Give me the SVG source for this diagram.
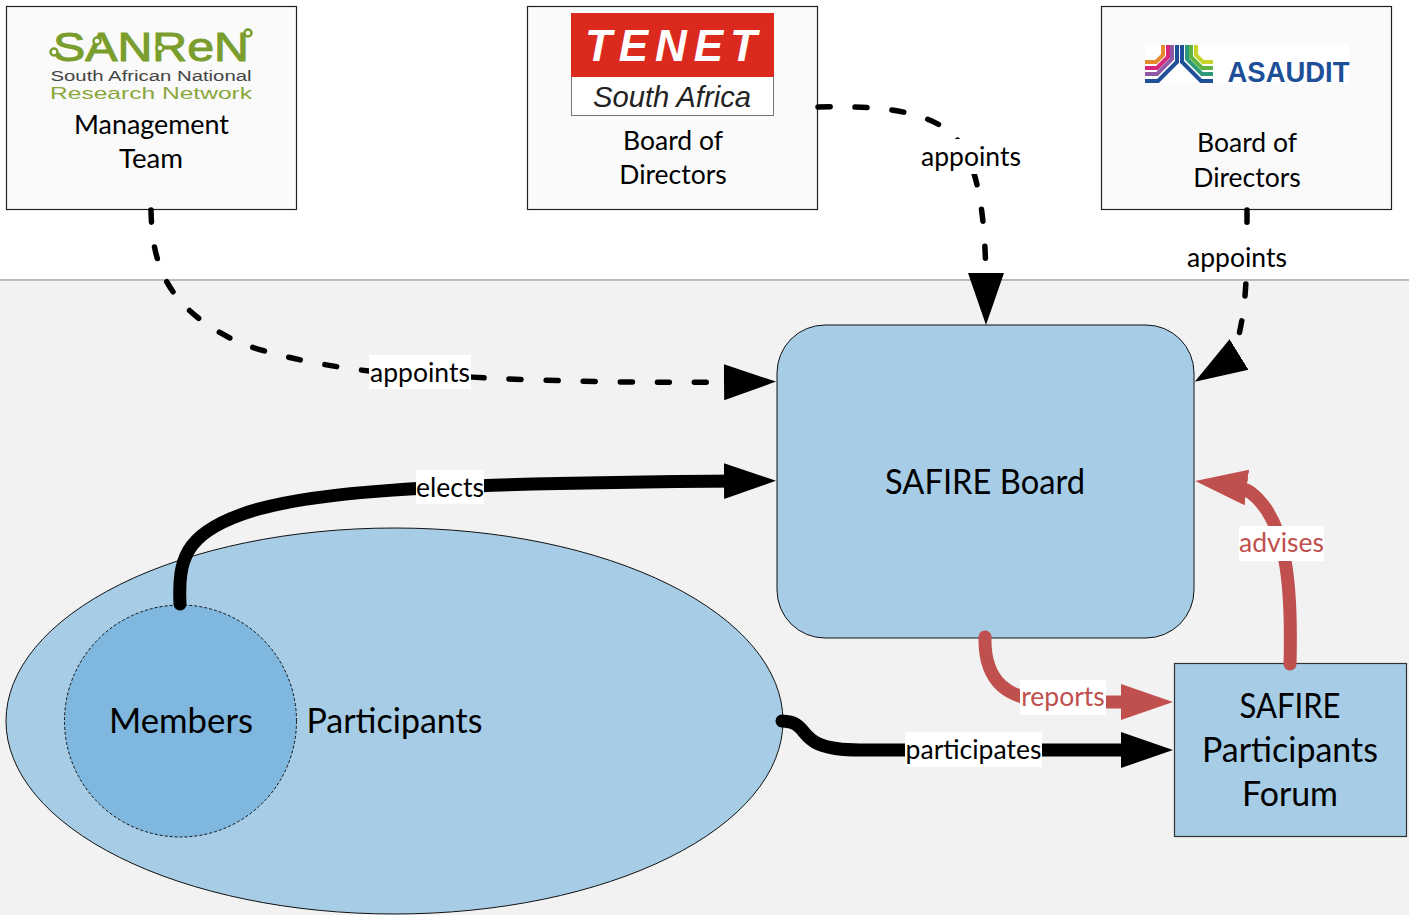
<svg xmlns="http://www.w3.org/2000/svg" width="1409" height="915" viewBox="0 0 1409 915">
<style>
text{font-family:Lato,"Open Sans","Liberation Sans",sans-serif;fill:#000;text-anchor:middle}
.box{fill:#fafafa;stroke:#222;stroke-width:1.2}
.t26{font-size:26.5px}
.t34{font-size:34px}
.lab{font-size:26.5px}
.bg{fill:#fff}
.c{fill:none;stroke-linecap:round}
.dash{stroke:#000;stroke-width:5.5;stroke-dasharray:12 25}
.blk{stroke:#000;stroke-width:13}
.red{stroke:#c0504d;stroke-width:13}
.logo{font-family:"Liberation Sans",Arial,sans-serif}
.node{fill:#fff;stroke:#7a9e2e;stroke-width:2.5}
</style>
<defs>
<marker id="ab" markerUnits="userSpaceOnUse" markerWidth="54" markerHeight="38" refX="20" refY="19" orient="auto"><path d="M0 1L52 19L0 37Z" fill="#000"/></marker>
<marker id="ar" markerUnits="userSpaceOnUse" markerWidth="54" markerHeight="38" refX="20" refY="19" orient="auto"><path d="M0 1L52 19L0 37Z" fill="#c0504d"/></marker>
</defs>
<rect width="1409" height="915" fill="#fff"/>
<path id="background" d="M0 280H1409V915H0Z" fill="#f2f2f2"/>
<path d="M0 280H1409" stroke="#bdbdbd" stroke-width="2" fill="none"/>

<g id="participants">
<ellipse cx="394.500" cy="721" rx="388.500" ry="193" fill="#a6cce6" stroke="#111" stroke-width="1"/>
<text class="t34" x="394.500" y="732.500" textLength="176" lengthAdjust="spacingAndGlyphs">Participants</text>
</g>
<g id="members">
<circle cx="180.500" cy="721" r="116" fill="#7fb7df" stroke="#111" stroke-width="1" stroke-dasharray="3 2"/>
<text class="t34" x="181" y="732.500" textLength="144" lengthAdjust="spacingAndGlyphs">Members</text>
</g>
<g id="safire-board">
<rect x="777" y="325" width="417" height="313" rx="48" fill="#a6cce6" stroke="#111" stroke-width="1"/>
<text class="t34" x="985" y="493.500" textLength="200" lengthAdjust="spacingAndGlyphs">SAFIRE Board</text>
</g>
<g id="forum">
<rect x="1174.500" y="663.500" width="232" height="173" fill="#a6cce6" stroke="#333" stroke-width="1.200"/>
<text class="t34" x="1290" y="717.500" textLength="101" lengthAdjust="spacingAndGlyphs">SAFIRE</text>
<text class="t34" x="1290" y="761.500" textLength="176" lengthAdjust="spacingAndGlyphs">Participants</text>
<text class="t34" x="1290" y="805.500" textLength="96" lengthAdjust="spacingAndGlyphs">Forum</text>
</g>

<g id="sanren">
<rect class="box" x="6.500" y="6.500" width="290" height="203"/>
<text x="151" y="61" font-size="40" stroke="#7a9e2e" stroke-width="1" textLength="196" lengthAdjust="spacingAndGlyphs" style="fill:#7a9e2e" class="logo">SANReN</text>
<circle class="node" cx="54" cy="52" r="3.500"/>
<circle class="node" cx="97" cy="41" r="3.500"/>
<circle class="node" cx="160" cy="48" r="3.500"/>
<circle class="node" cx="248" cy="33" r="3.500"/>
<text x="151" y="81" font-size="14" textLength="201" lengthAdjust="spacingAndGlyphs" style="fill:#444" class="logo">South African National</text>
<text x="151" y="98.500" font-size="17" textLength="202" lengthAdjust="spacingAndGlyphs" style="fill:#8aa83a" class="logo">Research Network</text>
<text class="t26" x="151.500" y="133.500" textLength="155" lengthAdjust="spacingAndGlyphs">Management</text>
<text class="t26" x="151" y="167.500" textLength="64" lengthAdjust="spacingAndGlyphs">Team</text>
</g>
<g id="tenet">
<rect class="box" x="527.500" y="6.500" width="290" height="203"/>
<rect x="571.500" y="13.500" width="202" height="102" fill="#fff" stroke="#777" stroke-width="1"/>
<rect x="571" y="13" width="203" height="64" fill="#dc291e"/>
<text class="logo" x="671" y="61" font-size="44" font-weight="700" font-style="italic" textLength="172" style="fill:#fff">TENET</text>
<text class="logo" x="672" y="107" font-size="29" font-style="italic" textLength="158" lengthAdjust="spacingAndGlyphs" style="fill:#222">South Africa</text>
<text class="t26" x="673" y="149.500">Board of</text>
<text class="t26" x="673" y="183.500">Directors</text>
</g>
<g id="asaudit">
<rect class="box" x="1101.500" y="6.500" width="290" height="203"/>
<rect x="1145" y="45" width="204" height="38" fill="#fff"/>
<g fill="none" stroke-width="4">
<path d="M1163 45V55L1156 62H1145" stroke="#e58a2e"/>
<path d="M1168 45V57L1157 68H1145" stroke="#d6257c"/>
<path d="M1172 45V59L1157 74H1145" stroke="#8e5aa6"/>
<path d="M1177 45V62L1158 81H1145" stroke="#1e509a"/>
<path d="M1182 45V62L1201 81H1213" stroke="#1e509a"/>
<path d="M1187 45V59L1202 74H1213" stroke="#2e9a7a"/>
<path d="M1191 45V57L1202 68H1213" stroke="#5fb340"/>
<path d="M1196 45V55L1203 62H1213" stroke="#c6d32b"/>
</g>
<text class="logo" x="1288.500" y="82" font-size="29" font-weight="700" textLength="122" lengthAdjust="spacingAndGlyphs" style="fill:#1e509a">ASAUDIT</text>
<text class="t26" x="1247" y="151.500">Board of</text>
<text class="t26" x="1247" y="186.500">Directors</text>
</g>

<g id="connectors">
<path class="c dash" d="M151 210C152 270 170 310 240 343C300 365 390 377 470 377C560 382 660 383 744 382" marker-end="url(#ab)"/>
<path class="c dash" d="M818 107C870 106 920 108 950 132C975 155 986 200 986 293" marker-end="url(#ab)"/>
<path class="c dash" d="M1247 210C1247 260 1247 295 1241 325C1238 340 1235 357 1222 365" marker-end="url(#ab)"/>
<path class="c blk" d="M180 604C178 560 185 535 240 515C300 492 420 483 744 481" marker-end="url(#ab)"/>
<path class="c blk" d="M782 721C815 722 790 750 860 750H1141" marker-end="url(#ab)"/>
<path class="c red" d="M985 637C984 680 1005 702 1060 702H1141" marker-end="url(#ar)"/>
<path class="c red" d="M1290 664C1292 590 1288 520 1250 492C1243 488 1235 486 1227 485" marker-end="url(#ar)"/>

<rect class="bg" x="369" y="355" width="102" height="34"/>
<text class="lab" x="420" y="382">appoints</text>
<rect class="bg" x="920" y="139" width="102" height="35"/>
<text class="lab" x="971" y="165.500">appoints</text>
<rect class="bg" x="1186" y="240" width="102" height="35"/>
<text class="lab" x="1237" y="266.500">appoints</text>
<rect class="bg" x="416" y="470" width="68" height="34"/>
<text class="lab" x="450" y="496.500">elects</text>
<rect class="bg" x="905" y="732" width="137" height="35"/>
<text class="lab" x="973.500" y="759">participates</text>
<rect class="bg" x="1020" y="680" width="86" height="35"/>
<text class="lab" x="1063" y="706" style="fill:#c0504d">reports</text>
<rect class="bg" x="1239" y="526" width="85" height="35"/>
<text class="lab" x="1281.500" y="552" style="fill:#c0504d">advises</text>
</g>
</svg>
